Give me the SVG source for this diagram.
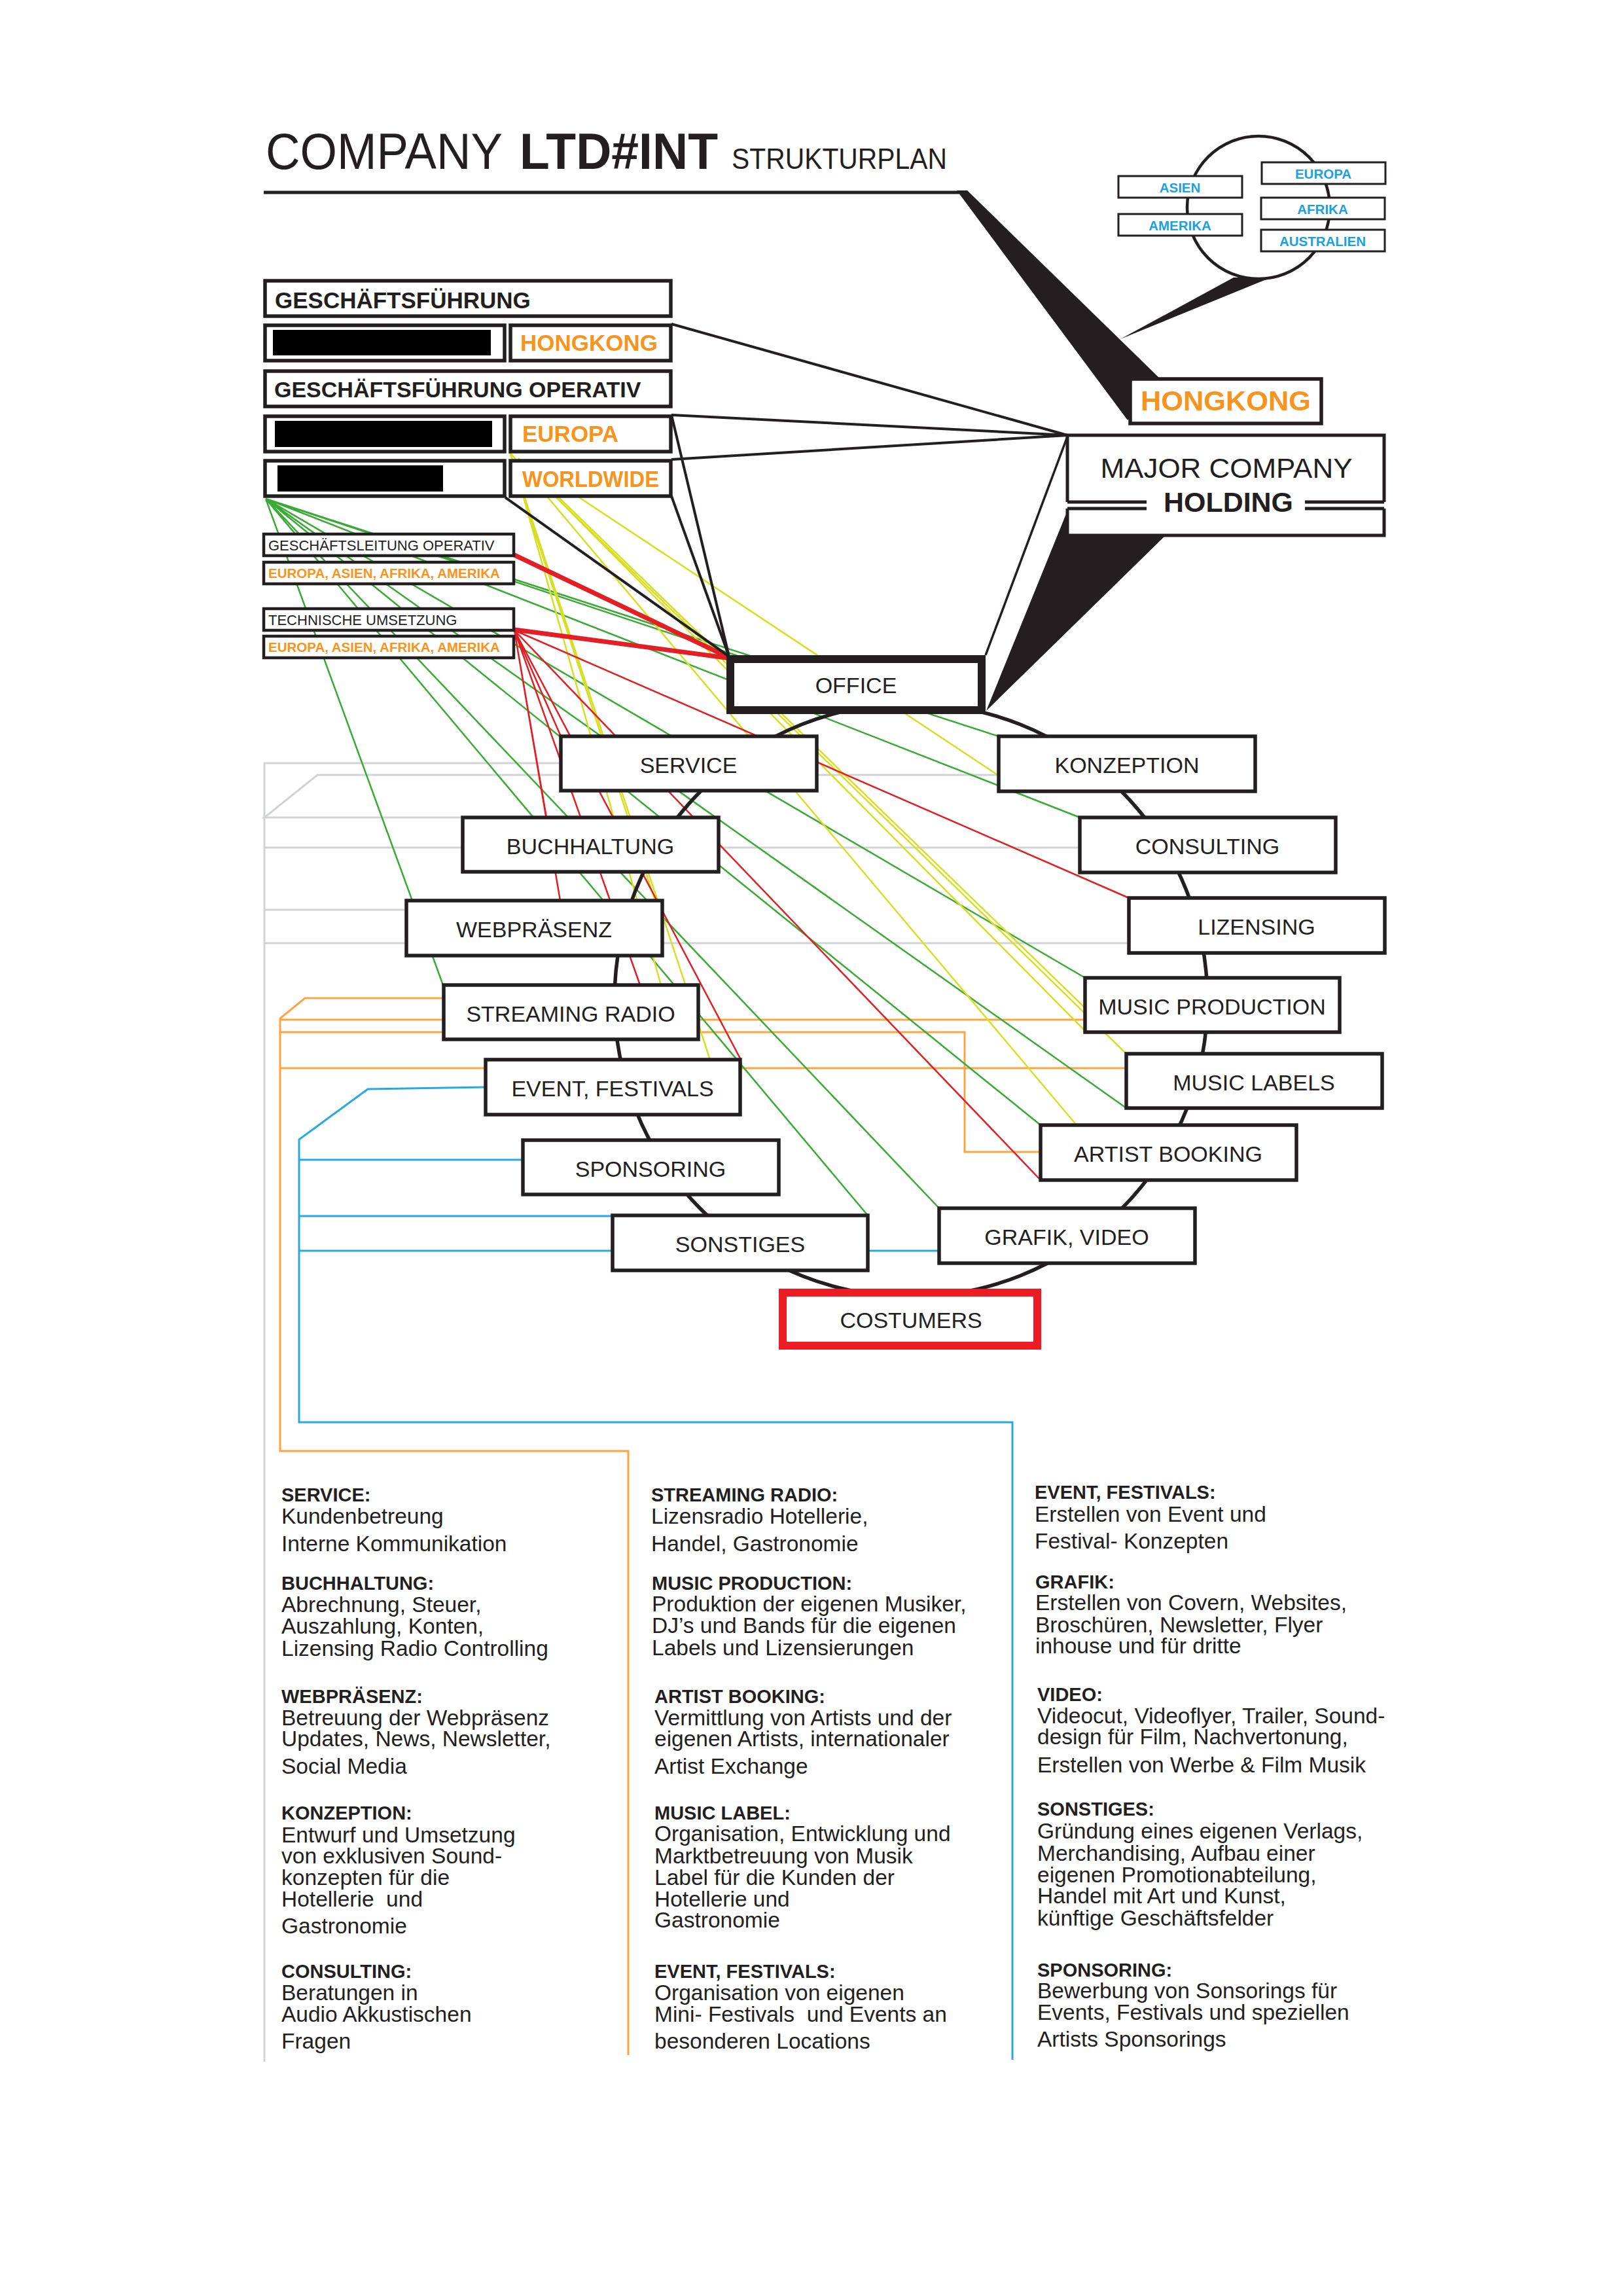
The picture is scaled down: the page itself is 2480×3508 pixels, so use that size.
<svg xmlns="http://www.w3.org/2000/svg" width="2480" height="3508" viewBox="0 0 2480 3508">
<style>
text{font-family:"Liberation Sans",Arial,Helvetica,sans-serif;fill:#231f20}
.box{fill:#fff;stroke:#231f20;stroke-width:5.5}
.sbox{fill:#fff;stroke:#231f20;stroke-width:4.5}
.gbox{fill:#fff;stroke:#231f20;stroke-width:3}
.lbl{font-size:34px;text-anchor:middle}
.hd{font-size:35px;font-weight:bold}
.or{fill:#f7941d;font-weight:bold}
.glb{font-size:20.5px;font-weight:bold;fill:#1ba1db;text-anchor:middle}
.sm{font-size:22px}
.smo{font-size:20.5px;font-weight:bold;fill:#f7941d}
.g{stroke:#3aaa35;stroke-width:2.5;fill:none}
.y{stroke:#d7df23;stroke-width:2.5;fill:none}
.r{stroke:#e31e24;stroke-width:2.5;fill:none}
.rt{stroke:#e31e24;stroke-width:7;fill:none}
.k{stroke:#231f20;stroke-width:4;fill:none}
.gr{stroke:#d1d3d4;stroke-width:3;fill:none}
.o{stroke:#f9a541;stroke-width:3;fill:none}
.b{stroke:#27aae1;stroke-width:3;fill:none}
.th{font-size:29px;font-weight:bold}
.tb{font-size:33.5px}
</style>
<rect width="2480" height="3508" fill="#fff"/>

<g id="title">
<text x="406" y="258" font-size="78" textLength="362" lengthAdjust="spacingAndGlyphs">COMPANY</text>
<text x="794" y="258" font-size="78" font-weight="bold" textLength="303" lengthAdjust="spacingAndGlyphs">LTD#INT</text>
<text x="1118" y="258" font-size="44" textLength="329" lengthAdjust="spacingAndGlyphs">STRUKTURPLAN</text>
<path d="M403,294 H1468" stroke="#231f20" stroke-width="5" fill="none"/>
<polygon points="1462,291 1478,291 1772,578 1723,642" fill="#231f20"/>
</g>

<g id="connectors">
<!-- gray -->
<path class="gr" d="M857,1166 H404 V3150"/>
<path class="gr" d="M1526,1184 H485 L404,1249 H707"/>
<path class="gr" d="M404,1295 H1650"/>
<path class="gr" d="M404,1390 H621"/>
<path class="gr" d="M404,1441 H1725"/>
<!-- orange -->
<path class="o" d="M677,1525 H466 L428,1556 V2217 H960 V3140"/>
<path class="o" d="M428,1558 H1658"/>
<path class="o" d="M428,1577 H1474 V1760 H1590"/>
<path class="o" d="M428,1632 H1721"/>
<!-- blue -->
<path class="b" d="M742,1661 L562,1664 L457,1741 V2173 H1547 V3147"/>
<path class="b" d="M457,1772 H799"/>
<path class="b" d="M457,1858 H936"/>
<path class="b" d="M457,1911 H1435"/>
<!-- green fan -->
<path class="g" d="M406,762 L677,1505 M406,762 L1326,1857 M406,762 L1435,1846 M406,762 L1590,1719 M406,762 L1721,1693 M406,762 L1658,1494 M406,762 L1650,1249 M406,762 L1526,1125 M406,762 L1130,1003"/>
<!-- yellow -->
<path class="y" d="M779,691 L1085,1619 M779,691 L1645,1719 M885,760 L1526,1185 M885,760 L1249,1001 M850,760 L1658,1575 M850,760 L1721,1610 M792,700 L1658,1540 M800,760 L1010,1505 M800,760 L1001,1376"/>
<!-- red thin -->
<path class="r" d="M786,963 L857,1125 M786,963 L835,1249 M786,963 L856,1376 M786,963 L978,1505 M786,963 L1132,1619 M786,963 L1725,1372 M786,963 L1590,1803"/>
<!-- red thick -->
<path class="rt" d="M786,848 L1117,1006 M786,962 L1117,1006"/>
<!-- black -->
<path class="k" d="M1026,495 L1631,665 M1026,634 L1631,665 M1026,702 L1631,665 M1026,634 L1114,1003 M1026,758 L1114,1003 M772,760 L1114,1003"/>
<path d="M1631,667 L1506,1001" stroke="#231f20" stroke-width="3.5" fill="none"/>
<polygon points="1632,778 1632,818 1781,818 1507,1086" fill="#231f20"/>
<circle cx="1392" cy="1528" r="453" fill="none" stroke="#231f20" stroke-width="5.5"/>
</g>

<g id="globe">
<polygon points="1885,424 1942,424 1712,518" fill="#231f20"/>
<circle cx="1923" cy="317" r="109" fill="none" stroke="#231f20" stroke-width="4.5"/>
<rect class="gbox" x="1709" y="269" width="189" height="33"/><text class="glb" x="1803" y="294">ASIEN</text>
<rect class="gbox" x="1709" y="327" width="189" height="33"/><text class="glb" x="1803" y="352">AMERIKA</text>
<rect class="gbox" x="1928" y="248" width="189" height="33"/><text class="glb" x="2022" y="273">EUROPA</text>
<rect class="gbox" x="1927" y="302" width="189" height="33"/><text class="glb" x="2021" y="327">AFRIKA</text>
<rect class="gbox" x="1927" y="351" width="189" height="33"/><text class="glb" x="2021" y="376">AUSTRALIEN</text>
</g>

<g id="n-geschaeftsfuehrung">
<rect class="box" x="405" y="429" width="620" height="54"/>
<text class="hd" x="420" y="471">GESCHÄFTSFÜHRUNG</text>
</g>
<g id="n-gf-person">
<rect class="box" x="405" y="497" width="366" height="54"/>
<rect x="417" y="504" width="333" height="39" fill="#000"/>
</g>
<g id="n-hongkong-small">
<rect class="box" x="780" y="497" width="245" height="54"/>
<text class="hd or" x="795" y="536">HONGKONG</text>
</g>
<g id="n-gf-operativ">
<rect class="box" x="405" y="567" width="620" height="54"/>
<text x="419" y="607" font-size="34" font-weight="bold">GESCHÄFTSFÜHRUNG OPERATIV</text>
</g>
<g id="n-op-person1">
<rect class="box" x="405" y="636" width="366" height="54"/>
<rect x="420" y="643" width="332" height="40" fill="#000"/>
</g>
<g id="n-europa-small">
<rect class="box" x="780" y="636" width="245" height="54"/>
<text class="hd or" x="798" y="675">EUROPA</text>
</g>
<g id="n-op-person2">
<rect class="box" x="405" y="704" width="366" height="54"/>
<rect x="424" y="711" width="253" height="40" fill="#000"/>
</g>
<g id="n-worldwide">
<rect class="box" x="780" y="704" width="245" height="54"/>
<text class="hd or" x="798" y="744" font-size="34" textLength="209" lengthAdjust="spacingAndGlyphs">WORLDWIDE</text>
</g>
<g id="n-gl-operativ">
<rect class="sbox" x="403" y="816" width="382" height="33"/>
<text class="sm" x="410" y="841">GESCHÄFTSLEITUNG OPERATIV</text>
</g>
<g id="n-gl-regions">
<rect class="sbox" x="403" y="859" width="382" height="33"/>
<text class="smo" x="410" y="883">EUROPA, ASIEN, AFRIKA, AMERIKA</text>
</g>
<g id="n-technik">
<rect class="sbox" x="403" y="930" width="382" height="33"/>
<text class="sm" x="410" y="955" font-size="21.5">TECHNISCHE UMSETZUNG</text>
</g>
<g id="n-technik-regions">
<rect class="sbox" x="403" y="972" width="382" height="33"/>
<text class="smo" x="410" y="996">EUROPA, ASIEN, AFRIKA, AMERIKA</text>
</g>

<g id="n-hongkong">
<rect class="box" x="1727" y="579" width="292" height="68"/>
<text x="1873" y="627" font-size="42" font-weight="bold" style="fill:#f7941d" text-anchor="middle" textLength="260" lengthAdjust="spacingAndGlyphs">HONGKONG</text>
</g>
<g id="n-major">
<path d="M1631,767 V665 H2115 V767" fill="#fff" stroke="#231f20" stroke-width="5"/>
<path d="M1631,767 H1752 M1994,767 H2115 M1631,777 H1752 M1994,777 H2115 M1631,777 V818 H2115 V777" fill="none" stroke="#231f20" stroke-width="5"/>
<text x="1874" y="730" font-size="42" text-anchor="middle" textLength="385" lengthAdjust="spacingAndGlyphs">MAJOR COMPANY</text>
<text x="1877" y="782" font-size="42" font-weight="bold" text-anchor="middle" textLength="198" lengthAdjust="spacingAndGlyphs">HOLDING</text>
</g>

<g id="n-office">
<rect x="1116" y="1007" width="384" height="78" fill="#fff" stroke="#231f20" stroke-width="12"/>
<text class="lbl" x="1308" y="1059">OFFICE</text>
</g>
<g id="n-service"><rect class="box" x="857" y="1125" width="391" height="83"/><text class="lbl" x="1052" y="1181">SERVICE</text></g>
<g id="n-buchhaltung"><rect class="box" x="707" y="1249" width="391" height="83"/><text class="lbl" x="902" y="1305">BUCHHALTUNG</text></g>
<g id="n-webpraesenz"><rect class="box" x="621" y="1376" width="391" height="84"/><text class="lbl" x="816" y="1432">WEBPRÄSENZ</text></g>
<g id="n-streaming"><rect class="box" x="678" y="1505" width="389" height="83"/><text class="lbl" x="872" y="1561">STREAMING RADIO</text></g>
<g id="n-event"><rect class="box" x="742" y="1619" width="389" height="84"/><text class="lbl" x="936" y="1675">EVENT, FESTIVALS</text></g>
<g id="n-sponsoring"><rect class="box" x="799" y="1742" width="391" height="83"/><text class="lbl" x="994" y="1798">SPONSORING</text></g>
<g id="n-sonstiges"><rect class="box" x="936" y="1857" width="390" height="84"/><text class="lbl" x="1131" y="1913">SONSTIGES</text></g>
<g id="n-costumers"><rect x="1196" y="1975" width="389" height="81" fill="#fff" stroke="#ed1c24" stroke-width="12"/><text class="lbl" x="1392" y="2029">COSTUMERS</text></g>
<g id="n-grafik"><rect class="box" x="1435" y="1846" width="391" height="84"/><text class="lbl" x="1630" y="1902">GRAFIK, VIDEO</text></g>
<g id="n-artist"><rect class="box" x="1590" y="1719" width="391" height="84"/><text class="lbl" x="1785" y="1775">ARTIST BOOKING</text></g>
<g id="n-labels"><rect class="box" x="1721" y="1610" width="391" height="83"/><text class="lbl" x="1916" y="1666">MUSIC LABELS</text></g>
<g id="n-production"><rect class="box" x="1658" y="1494" width="389" height="83"/><text class="lbl" x="1852" y="1550">MUSIC PRODUCTION</text></g>
<g id="n-lizensing"><rect class="box" x="1725" y="1372" width="391" height="84"/><text class="lbl" x="1920" y="1428">LIZENSING</text></g>
<g id="n-consulting"><rect class="box" x="1650" y="1249" width="391" height="84"/><text class="lbl" x="1845" y="1305">CONSULTING</text></g>
<g id="n-konzeption"><rect class="box" x="1526" y="1125" width="392" height="84"/><text class="lbl" x="1722" y="1181">KONZEPTION</text></g>

<g id="descriptions">
<text class="th" x="430" y="2294">SERVICE:</text>
<text class="tb" x="430" y="2328">Kundenbetreung</text>
<text class="tb" x="430" y="2370">Interne Kommunikation</text>
<text class="th" x="430" y="2429">BUCHHALTUNG:</text>
<text class="tb" x="430" y="2463">Abrechnung, Steuer,</text>
<text class="tb" x="430" y="2496">Auszahlung, Konten,</text>
<text class="tb" x="430" y="2530">Lizensing Radio Controlling</text>
<text class="th" x="430" y="2602">WEBPRÄSENZ:</text>
<text class="tb" x="430" y="2636">Betreuung der Webpräsenz</text>
<text class="tb" x="430" y="2668">Updates, News, Newsletter,</text>
<text class="tb" x="430" y="2710">Social Media</text>
<text class="th" x="430" y="2780">KONZEPTION:</text>
<text class="tb" x="430" y="2815">Entwurf und Umsetzung</text>
<text class="tb" x="430" y="2847">von exklusiven Sound-</text>
<text class="tb" x="430" y="2880">konzepten für die</text>
<text class="tb" x="430" y="2913" xml:space="preserve">Hotellerie  und</text>
<text class="tb" x="430" y="2954">Gastronomie</text>
<text class="th" x="430" y="3022">CONSULTING:</text>
<text class="tb" x="430" y="3056">Beratungen in</text>
<text class="tb" x="430" y="3089">Audio Akkustischen</text>
<text class="tb" x="430" y="3130">Fragen</text>

<text class="th" x="995" y="2294">STREAMING RADIO:</text>
<text class="tb" x="995" y="2328">Lizensradio Hotellerie,</text>
<text class="tb" x="995" y="2370">Handel, Gastronomie</text>
<text class="th" x="996" y="2429">MUSIC PRODUCTION:</text>
<text class="tb" x="996" y="2462">Produktion der eigenen Musiker,</text>
<text class="tb" x="996" y="2495">DJ’s und Bands für die eigenen</text>
<text class="tb" x="996" y="2529">Labels und Lizensierungen</text>
<text class="th" x="1000" y="2602">ARTIST BOOKING:</text>
<text class="tb" x="1000" y="2636">Vermittlung von Artists und der</text>
<text class="tb" x="1000" y="2668">eigenen Artists, internationaler</text>
<text class="tb" x="1000" y="2710">Artist Exchange</text>
<text class="th" x="1000" y="2780">MUSIC LABEL:</text>
<text class="tb" x="1000" y="2813">Organisation, Entwicklung und</text>
<text class="tb" x="1000" y="2847">Marktbetreuung von Musik</text>
<text class="tb" x="1000" y="2880">Label für die Kunden der</text>
<text class="tb" x="1000" y="2913">Hotellerie und</text>
<text class="tb" x="1000" y="2945">Gastronomie</text>
<text class="th" x="1000" y="3022">EVENT, FESTIVALS:</text>
<text class="tb" x="1000" y="3056">Organisation von eigenen</text>
<text class="tb" x="1000" y="3089" xml:space="preserve">Mini- Festivals  und Events an</text>
<text class="tb" x="1000" y="3130">besonderen Locations</text>

<text class="th" x="1581" y="2290">EVENT, FESTIVALS:</text>
<text class="tb" x="1581" y="2325">Erstellen von Event und</text>
<text class="tb" x="1581" y="2366">Festival- Konzepten</text>
<text class="th" x="1582" y="2427">GRAFIK:</text>
<text class="tb" x="1582" y="2460">Erstellen von Covern, Websites,</text>
<text class="tb" x="1582" y="2494">Broschüren, Newsletter, Flyer</text>
<text class="tb" x="1582" y="2526">inhouse und für dritte</text>
<text class="th" x="1585" y="2599">VIDEO:</text>
<text class="tb" x="1585" y="2633">Videocut, Videoflyer, Trailer, Sound-</text>
<text class="tb" x="1585" y="2665">design für Film, Nachvertonung,</text>
<text class="tb" x="1585" y="2708">Erstellen von Werbe &amp; Film Musik</text>
<text class="th" x="1585" y="2774">SONSTIGES:</text>
<text class="tb" x="1585" y="2809">Gründung eines eigenen Verlags,</text>
<text class="tb" x="1585" y="2843">Merchandising, Aufbau einer</text>
<text class="tb" x="1585" y="2876">eigenen Promotionabteilung,</text>
<text class="tb" x="1585" y="2908">Handel mit Art und Kunst,</text>
<text class="tb" x="1585" y="2942">künftige Geschäftsfelder</text>
<text class="th" x="1585" y="3020">SPONSORING:</text>
<text class="tb" x="1585" y="3053">Bewerbung von Sonsorings für</text>
<text class="tb" x="1585" y="3086">Events, Festivals und speziellen</text>
<text class="tb" x="1585" y="3127">Artists Sponsorings</text>
</g>
</svg>
